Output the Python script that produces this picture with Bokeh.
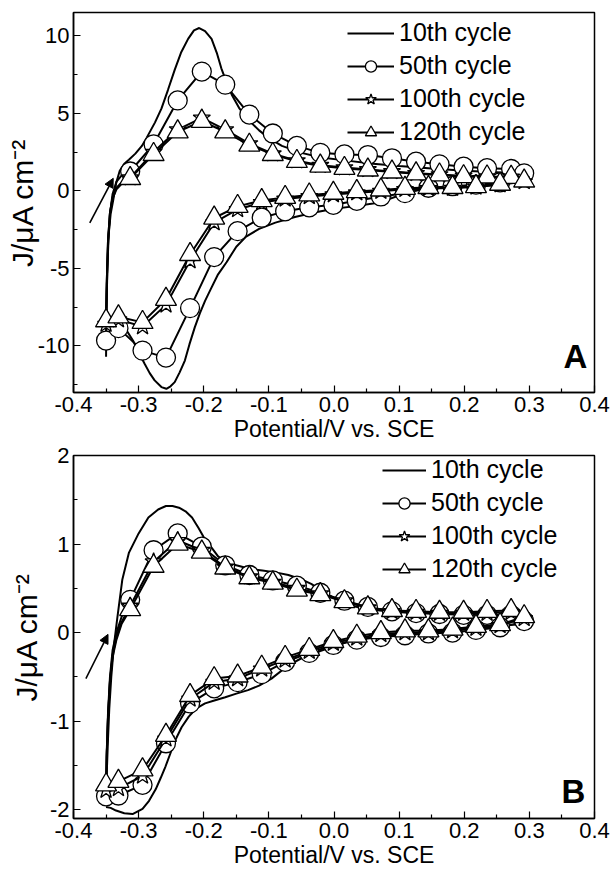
from bokeh.plotting import figure
from bokeh.models import FixedTicker, Legend, LegendItem, Label, Arrow, NormalHead, Range1d
from bokeh.layouts import column
from bokeh.embed import file_html
from bokeh.resources import INLINE

FONT = "Liberation Sans"

# ---------------- shared tick / text data ----------------
X_TICKS = [-0.4, -0.3, -0.2, -0.1, 0.0, 0.1, 0.2, 0.3, 0.4]
X_LABELS = ["-0.4", "-0.3", "-0.2", "-0.1", "0.0", "0.1", "0.2", "0.3", "0.4"]
X_MINOR = [-0.35, -0.25, -0.15, -0.05, 0.05, 0.15, 0.25, 0.35]
A_Y_TICKS = [-10, -5, 0, 5, 10]
A_Y_LABELS = ["-10", "-5", "0", "5", "10"]
A_Y_MINOR = [-12.5, -7.5, -2.5, 2.5, 7.5]
B_Y_TICKS = [-2, -1, 0, 1, 2]
B_Y_LABELS = ["-2", "-1", "0", "1", "2"]
B_Y_MINOR = [-1.5, -0.5, 0.5, 1.5]

X_TITLE = "Potential/V vs. SCE"
Y_TITLE = "J/\u03bcA cm\u207b\u00b2"
SERIES = ["10th cycle", "50th cycle", "100th cycle", "120th cycle"]

# marker potentials (V) on the forward and reverse scans
MK_V_FWD = [-0.35, -0.313, -0.277, -0.240, -0.203, -0.167, -0.130, -0.094, -0.057,
            -0.021, 0.016, 0.052, 0.089, 0.126, 0.162, 0.199, 0.235, 0.272]
MK_V_REV = [0.292, 0.255, 0.218, 0.182, 0.145, 0.109, 0.072, 0.035, -0.001,
            -0.038, -0.075, -0.111, -0.148, -0.184, -0.221, -0.258, -0.294, -0.331]
RISE_V = [-0.349, -0.347, -0.344, -0.340, -0.334, -0.326]
VERTEX_V = 0.3
END_V = -0.35

# ---------------- panel A ----------------
A10_V = [-0.35, -0.3495, -0.348, -0.346, -0.343, -0.339, -0.3345, -0.329, -0.322, -0.315,
         -0.305, -0.295, -0.288, -0.275, -0.265, -0.255, -0.2446, -0.235, -0.224, -0.215,
         -0.207, -0.198, -0.188, -0.18, -0.173, -0.165, -0.157, -0.145, -0.132, -0.115,
         -0.1, -0.08, -0.05, -0.02, 0.02, 0.06, 0.1, 0.15, 0.2, 0.25, 0.3,
         0.297, 0.28, 0.25, 0.21, 0.17, 0.14, 0.12, 0.1, 0.08, 0.06, 0.03, 0.0, -0.03,
         -0.06, -0.09, -0.115, -0.135, -0.15, -0.165, -0.178, -0.19, -0.198, -0.206,
         -0.2138, -0.222, -0.229, -0.237, -0.2446, -0.251, -0.2574, -0.265, -0.2754,
         -0.283, -0.2908, -0.3, -0.3087, -0.3215, -0.337, -0.346]
A10_J = [-10.7, -8.0, -5.0, -2.8, -1.5, -0.6, 0.5, 1.3, 1.75, 2.0,
         2.4, 2.9, 3.4, 4.4, 5.3, 6.5, 7.8, 8.9, 9.8, 10.35,
         10.5, 10.3, 9.8, 8.9, 7.9, 7.0, 6.2, 5.3, 4.6, 3.9,
         3.4, 2.9, 2.45, 2.15, 1.95, 1.75, 1.6, 1.45, 1.3, 1.2, 1.1,
         0.75, 0.58, 0.45, 0.33, 0.22, 0.12, 0.0, -0.3, -0.6, -0.82, -1.0, -1.15, -1.4,
         -1.68, -2.05, -2.45, -2.95, -3.6, -4.6, -5.38, -6.4, -7.09, -7.9,
         -8.8, -9.9, -10.94, -11.7, -12.33, -12.6, -12.76, -12.65, -12.22,
         -11.75, -11.15, -10.4, -9.65, -8.8, -8.37, -8.4]

A50_FWD = [-9.65, 1.25, 3.0, 5.83, 7.69, 6.85, 4.92, 3.7, 2.9, 2.45, 2.35, 2.31, 2.1, 1.88, 1.71, 1.56, 1.46, 1.41]
A50_REV = [1.13, 0.55, 0.4, 0.3, 0.2, -0.15, -0.36, -0.64, -0.9, -1.06, -1.32, -1.73, -2.6, -4.27, -7.56, -10.75, -10.3, -8.85]
A50_RISE = [-6.5, -3.5, -1.5, -0.2, 0.6, 1.0]
A50_VERTEX, A50_END = 1.3, -9.3

A100_FWD = [-8.6, 0.85, 2.5, 3.95, 4.7, 3.95, 3.05, 2.4, 1.95, 1.65, 1.5, 1.38, 1.25, 1.13, 1.05, 0.96, 0.92, 0.9]
A100_REV = [0.6, 0.4, 0.25, 0.18, 0.16, 0.1, -0.02, -0.12, -0.24, -0.36, -0.52, -0.75, -1.2, -2.05, -4.5, -7.35, -8.75, -8.3]
A100_RISE = [-6.0, -3.2, -1.4, -0.4, 0.2, 0.55]
A100_VERTEX, A100_END = 0.87, -8.6

A120_FWD = [-8.37, 0.8, 2.35, 3.81, 4.49, 3.81, 2.95, 2.35, 1.9, 1.6, 1.45, 1.35, 1.22, 1.1, 1.03, 0.92, 0.9, 0.88]
A120_REV = [0.64, 0.43, 0.28, 0.22, 0.22, 0.17, 0.06, -0.04, -0.15, -0.26, -0.42, -0.62, -1.0, -1.75, -4.1, -6.99, -8.48, -8.12]
A120_RISE = [-6.0, -3.2, -1.4, -0.5, 0.1, 0.45]
A120_VERTEX, A120_END = 0.85, -8.4

# ---------------- panel B ----------------
B10_V = [-0.35, -0.349, -0.347, -0.345, -0.342, -0.338, -0.333, -0.325, -0.315, -0.3,
         -0.285, -0.27, -0.258, -0.248, -0.238, -0.228, -0.218, -0.208, -0.198, -0.188,
         -0.178, -0.165, -0.15, -0.13, -0.11, -0.09, -0.07, -0.05, -0.035, -0.02, 0.0,
         0.02, 0.04, 0.07, 0.1, 0.14, 0.18, 0.22, 0.26, 0.3,
         0.299, 0.28, 0.25, 0.2, 0.15, 0.1, 0.06, 0.03, 0.01, -0.01, -0.03, -0.05, -0.07,
         -0.096, -0.115, -0.132, -0.15, -0.167, -0.185, -0.198, -0.212, -0.223, -0.234,
         -0.2434, -0.251, -0.2586, -0.266, -0.2738, -0.284, -0.294, -0.3093, -0.322,
         -0.3347, -0.343, -0.35]
B10_J = [-1.95, -1.6, -1.2, -0.85, -0.5, -0.15, 0.15, 0.6, 0.9, 1.12,
         1.3, 1.39, 1.43, 1.43, 1.41, 1.37, 1.3, 1.18, 1.05, 0.96,
         0.86, 0.8, 0.76, 0.72, 0.7, 0.68, 0.65, 0.6, 0.55, 0.48, 0.39,
         0.32, 0.28, 0.25, 0.23, 0.22, 0.21, 0.2, 0.19, 0.18,
         0.12, 0.09, 0.07, 0.04, 0.01, -0.02, -0.05, -0.09, -0.13, -0.18, -0.23, -0.29, -0.37,
         -0.52, -0.6, -0.65, -0.69, -0.73, -0.77, -0.8, -0.86, -0.95, -1.07,
         -1.21, -1.36, -1.51, -1.64, -1.77, -1.9, -1.99, -2.05, -2.04,
         -2.01, -1.98, -1.97]

B50_FWD = [-1.85, 0.37, 0.93, 1.12, 0.97, 0.76, 0.65, 0.59, 0.53, 0.45, 0.36, 0.29, 0.24, 0.22, 0.21, 0.2, 0.2, 0.2]
B50_REV = [0.13, 0.06, 0.03, 0.0, -0.01, -0.03, -0.05, -0.08, -0.14, -0.23, -0.33, -0.47, -0.56, -0.63, -0.8, -1.25, -1.72, -1.84]
B50_RISE = [-1.4, -0.9, -0.5, -0.2, 0.0, 0.18]
B50_VERTEX, B50_END = 0.17, -1.88

B100_FWD = [-1.78, 0.3, 0.8, 1.04, 0.93, 0.74, 0.63, 0.57, 0.5, 0.44, 0.36, 0.28, 0.24, 0.23, 0.22, 0.22, 0.22, 0.23]
B100_REV = [0.16, 0.08, 0.05, 0.02, 0.0, 0.0, -0.02, -0.06, -0.12, -0.21, -0.31, -0.41, -0.52, -0.56, -0.75, -1.2, -1.62, -1.76]
B100_RISE = [-1.4, -0.95, -0.55, -0.25, -0.05, 0.12]
B100_VERTEX, B100_END = 0.2, -1.8

B120_FWD = [-1.72, 0.26, 0.75, 1.0, 0.91, 0.73, 0.62, 0.56, 0.48, 0.43, 0.35, 0.28, 0.25, 0.24, 0.23, 0.23, 0.24, 0.25]
B120_REV = [0.18, 0.09, 0.07, 0.04, 0.02, 0.02, 0.0, -0.04, -0.1, -0.19, -0.28, -0.39, -0.49, -0.52, -0.71, -1.16, -1.55, -1.68]
B120_RISE = [-1.35, -0.95, -0.55, -0.28, -0.08, 0.1]
B120_VERTEX, B120_END = 0.22, -1.72


def loop(fwd, rev, rise, vertex, end):
    v = [MK_V_FWD[0]] + RISE_V + MK_V_FWD[1:] + [VERTEX_V] + MK_V_REV + [END_V]
    j = [fwd[0]] + rise + fwd[1:] + [vertex] + rev + [end]
    return v, j


def style_axes(p, yticks, ylabels, yminor, ylab_standoff):
    p.xaxis.ticker = FixedTicker(ticks=X_TICKS, minor_ticks=X_MINOR)
    p.xaxis.major_label_overrides = dict(zip(X_TICKS, X_LABELS))
    p.yaxis.ticker = FixedTicker(ticks=yticks, minor_ticks=yminor)
    p.yaxis.major_label_overrides = dict(zip(yticks, ylabels))
    p.xaxis.axis_label = X_TITLE
    p.yaxis.axis_label = Y_TITLE
    for ax in (p.xaxis[0], p.yaxis[0]):
        ax.axis_line_color = "black"
        ax.axis_line_width = 1.5
        ax.major_tick_in = 7
        ax.major_tick_out = 0
        ax.minor_tick_in = 4
        ax.minor_tick_out = 0
        ax.major_tick_line_color = "black"
        ax.minor_tick_line_color = "black"
        ax.major_tick_line_width = 1.2
        ax.minor_tick_line_width = 1.2
        ax.major_label_text_font = FONT
        ax.major_label_text_font_size = "22px"
        ax.major_label_text_color = "black"
        ax.major_label_standoff = 4
        ax.axis_label_text_font = FONT
        ax.axis_label_text_font_style = "normal"
        ax.axis_label_text_color = "black"
    p.xaxis.axis_label_text_font_size = "23px"
    p.xaxis.axis_label_standoff = 1
    p.yaxis.axis_label_text_font_size = "30px"
    p.yaxis.axis_label_standoff = ylab_standoff


def panel(height, b_left, b_right, b_top, b_bottom, yr, yticks, ylabels, yminor, ylab_standoff,
          l10, s50, s100, s120, legend_xy, glyph_w, pad, letter, letter_xy, arrow):
    p = figure(width=613, height=height, x_range=Range1d(-0.4, 0.4), y_range=Range1d(*yr),
               output_backend="svg", toolbar_location=None,
               min_border_left=b_left, min_border_right=b_right,
               min_border_top=b_top, min_border_bottom=b_bottom)
    p.xgrid.visible = False
    p.ygrid.visible = False
    p.outline_line_color = "black"
    p.outline_line_width = 1.5
    p.outline_line_alpha = 1.0
    p.background_fill_color = "white"
    p.border_fill_color = "white"
    style_axes(p, yticks, ylabels, yminor, ylab_standoff)

    r10 = p.line(l10[0], l10[1], line_color="black", line_width=2)
    items = [LegendItem(label=SERIES[0], renderers=[r10])]
    for name, s, marker, size in ((SERIES[1], s50, "circle", 19),
                                  (SERIES[2], s100, "star", 18),
                                  (SERIES[3], s120, "triangle", 21)):
        v, j = loop(*s)
        rl = p.line(v, j, line_color="black", line_width=2)
        mv = MK_V_FWD + MK_V_REV
        mj = s[0] + s[1]
        rm = p.scatter(mv, mj, marker=marker, size=size, fill_color="white",
                       line_color="black", line_width=1.3)
        items.append(LegendItem(label=name, renderers=[rl, rm]))

    leg = Legend(items=items, location=legend_xy, border_line_color=None,
                 background_fill_alpha=0, label_text_font=FONT, label_text_font_size="25px",
                 label_text_color="black", glyph_width=glyph_w, glyph_height=28, label_height=28,
                 spacing=4, padding=pad, label_standoff=5, margin=0)
    p.add_layout(leg)

    p.add_layout(Label(x=letter_xy[0], y=letter_xy[1], text=letter, text_align="right",
                       text_baseline="alphabetic", text_font=FONT, text_font_style="bold",
                       text_font_size="33px", text_color="black"))
    p.add_layout(Arrow(end=NormalHead(size=9, fill_color="black", line_color="black"),
                       x_start=arrow[0], y_start=arrow[1], x_end=arrow[2], y_end=arrow[3],
                       line_color="black", line_width=1.6))
    return p


pA = panel(444, 73, 19, 12, 52, (-13.0, 11.5), A_Y_TICKS, A_Y_LABELS, A_Y_MINOR, -4,
           (A10_V, A10_J),
           (A50_FWD, A50_REV, A50_RISE, A50_VERTEX, A50_END),
           (A100_FWD, A100_REV, A100_RISE, A100_VERTEX, A100_END),
           (A120_FWD, A120_REV, A120_RISE, A120_VERTEX, A120_END),
           (274, 246), 47, 3, "A", (0.389, -10.7), (-0.375, -2.07, -0.339, 0.81))

pB = panel(430, 70, 17, 11, 56, (-2.1, 2.0), B_Y_TICKS, B_Y_LABELS, B_Y_MINOR, 4,
           (B10_V, B10_J),
           (B50_FWD, B50_REV, B50_RISE, B50_VERTEX, B50_END),
           (B100_FWD, B100_REV, B100_RISE, B100_VERTEX, B100_END),
           (B120_FWD, B120_REV, B120_RISE, B120_VERTEX, B120_END),
           (309, 235), 44, 0, "B", (0.386, -1.79), (-0.381, -0.52, -0.347, -0.02))

layout = column(pA, pB, spacing=0)
open("out.html", "w").write(file_html(layout, INLINE))
